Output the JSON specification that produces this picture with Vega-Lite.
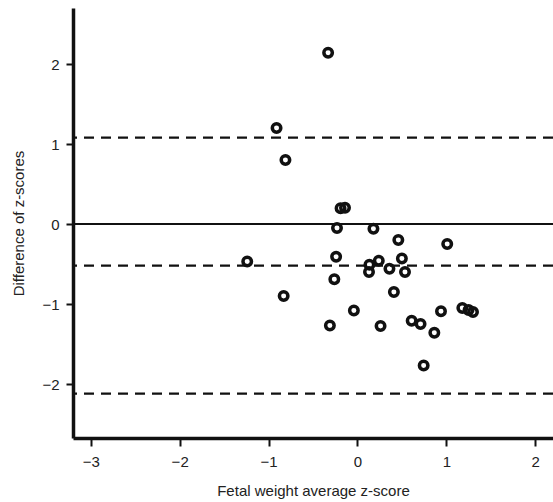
{
  "$schema": "https://vega.github.io/schema/vega-lite/v6.json",
  "autosize": "none",
  "width": 480,
  "height": 430,
  "padding": {"left": 73, "top": 8, "right": 0, "bottom": 64},
  "background": "white",
  "config": {
    "view": {"stroke": null},
    "axis": {
      "domainColor": "#111",
      "domainWidth": 3.5,
      "tickColor": "#111",
      "tickWidth": 2,
      "grid": false,
      "labelFont": "Liberation Sans",
      "labelFontSize": 15,
      "labelColor": "#222",
      "titleFont": "Liberation Sans",
      "titleFontSize": 15,
      "titleFontWeight": "normal",
      "titleColor": "#222"
    }
  },
  "layer": [
    {
      "data": {"values": [{"y": 0}]},
      "mark": {"type": "rule", "color": "#111", "strokeWidth": 2.2},
      "encoding": {"y": {"field": "y", "type": "quantitative"}}
    },
    {
      "data": {"values": [{"y": 1.08}, {"y": -0.52}, {"y": -2.12}]},
      "mark": {"type": "rule", "color": "#111", "strokeWidth": 2.2, "strokeDash": [10, 7]},
      "encoding": {"y": {"field": "y", "type": "quantitative"}}
    },
    {
      "data": {"values": [
        {"avg": -0.33, "diff": 2.14},
        {"avg": -0.91, "diff": 1.2},
        {"avg": -0.81, "diff": 0.8},
        {"avg": -0.19, "diff": 0.196},
        {"avg": -0.14, "diff": 0.204},
        {"avg": -0.23, "diff": -0.05},
        {"avg": 0.18, "diff": -0.06},
        {"avg": 0.46, "diff": -0.2},
        {"avg": 1.01, "diff": -0.25},
        {"avg": -1.24, "diff": -0.47},
        {"avg": -0.24, "diff": -0.41},
        {"avg": 0.135, "diff": -0.51},
        {"avg": 0.24, "diff": -0.46},
        {"avg": 0.5, "diff": -0.43},
        {"avg": 0.13, "diff": -0.6},
        {"avg": 0.36, "diff": -0.56},
        {"avg": 0.535, "diff": -0.6},
        {"avg": -0.26, "diff": -0.69},
        {"avg": -0.83, "diff": -0.9},
        {"avg": 0.41, "diff": -0.85},
        {"avg": -0.04, "diff": -1.08},
        {"avg": 0.94, "diff": -1.09},
        {"avg": 1.18, "diff": -1.05},
        {"avg": 1.25, "diff": -1.075},
        {"avg": 1.3, "diff": -1.1},
        {"avg": -0.31, "diff": -1.27},
        {"avg": 0.26, "diff": -1.275},
        {"avg": 0.61, "diff": -1.21},
        {"avg": 0.71, "diff": -1.25},
        {"avg": 0.865, "diff": -1.36},
        {"avg": 0.745, "diff": -1.77}
      ]},
      "mark": {"type": "point", "shape": "circle", "filled": false, "color": "#111", "strokeWidth": 3.5, "size": 72, "opacity": 1},
      "encoding": {
        "x": {
          "field": "avg", "type": "quantitative",
          "scale": {"domain": [-3.2, 2.2], "nice": false, "zero": false},
          "axis": {"values": [-3, -2, -1, 0, 1, 2], "format": "d", "title": "Fetal weight average z-score", "tickSize": 8, "titlePadding": 14, "labelPadding": 8}
        },
        "y": {
          "field": "diff", "type": "quantitative",
          "scale": {"domain": [-2.675, 2.7], "nice": false, "zero": false},
          "axis": {"values": [-2, -1, 0, 1, 2], "format": "d", "title": "Difference of z-scores", "tickSize": 7, "titlePadding": 15, "labelPadding": 7}
        }
      }
    }
  ]
}
